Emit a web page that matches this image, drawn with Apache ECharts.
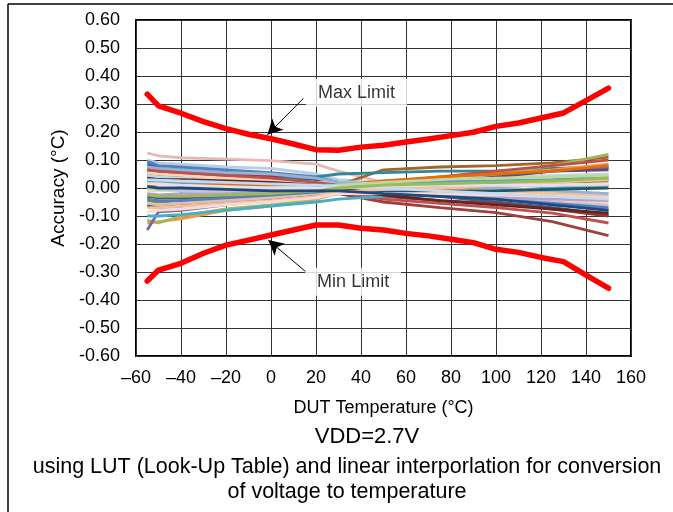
<!DOCTYPE html>
<html>
<head>
    <meta charset="utf-8">
    <title>Accuracy vs DUT Temperature</title>
    <style>
        html, body { margin: 0; padding: 0; background: #fff; }
        #main { width: 673px; height: 512px; }
    </style>
</head>
<body>
    <div id="main"></div>
    <script src="https://cdn.jsdelivr.net/npm/echarts@6/dist/echarts.min.js"></script>
    <script>
        // temperatures of the device curves
        var temps = [-55, -50, -40, -20, 0, 20, 30, 50, 75, 100, 125, 150];
        // temperatures of the limit curves
        var limitTemps = [-55, -50, -40, -30, -20, -10, 0, 10, 20, 30, 40, 50, 60, 70, 80, 90, 100, 110, 120, 130, 140, 150];
        var maxLimit = [0.335, 0.293, 0.267, 0.237, 0.212, 0.192, 0.176, 0.157, 0.137, 0.135, 0.146, 0.153, 0.164, 0.175, 0.187, 0.199, 0.22, 0.232, 0.25, 0.268, 0.312, 0.357];
        var minLimit = [-0.332, -0.293, -0.269, -0.233, -0.204, -0.186, -0.168, -0.15, -0.132, -0.132, -0.144, -0.15, -0.162, -0.171, -0.183, -0.195, -0.219, -0.23, -0.248, -0.263, -0.311, -0.358];

        // one row per device (values at temps)
        var devices = [
            [0.125, 0.115, 0.108, 0.103, 0.098, 0.085, 0.06, 0.02, 0.01, 0.0, -0.01, -0.02],
            [0.1, 0.09, 0.085, 0.075, 0.07, 0.05, 0.03, 0.02, 0.02, 0.025, 0.03, 0.035],
            [0.095, 0.08, 0.075, 0.065, 0.055, 0.04, 0.02, 0.01, -0.01, -0.03, -0.05, -0.08],
            [0.085, 0.07, 0.065, 0.055, 0.045, 0.03, 0.015, -0.01, -0.03, -0.05, -0.07, -0.095],
            [0.07, 0.065, 0.06, 0.05, 0.04, 0.02, 0.0, -0.03, -0.045, -0.055, -0.075, -0.1],
            [0.06, 0.055, 0.05, 0.04, 0.03, 0.01, -0.01, -0.04, -0.055, -0.07, -0.09, -0.125],
            [0.05, 0.045, 0.04, 0.03, 0.015, 0.0, -0.02, -0.05, -0.07, -0.088, -0.12, -0.17],
            [0.03, 0.025, 0.02, 0.01, 0.0, -0.005, 0.01, 0.065, 0.075, 0.08, 0.09, 0.11],
            [0.04, 0.035, 0.035, 0.03, 0.03, 0.04, 0.05, 0.055, 0.06, 0.06, 0.07, 0.075],
            [-0.125, -0.12, -0.11, -0.08, -0.065, -0.04, -0.02, 0.01, 0.03, 0.05, 0.065, 0.085],
            [-0.115, -0.125, -0.1, -0.075, -0.06, -0.035, -0.015, 0.0, 0.02, 0.05, 0.08, 0.12],
            [-0.15, -0.085, -0.08, -0.06, -0.045, -0.03, -0.02, 0.0, 0.02, 0.04, 0.06, 0.07],
            [-0.1, -0.1, -0.095, -0.08, -0.065, -0.05, -0.04, -0.03, -0.02, -0.01, 0.0, 0.01],
            [0.02, 0.02, 0.018, 0.015, 0.015, 0.01, 0.005, 0.0, -0.005, -0.01, -0.02, -0.03],
            [-0.01, -0.01, -0.008, -0.005, 0.0, 0.005, 0.01, 0.015, 0.02, 0.02, 0.025, 0.03],
            [0.0, -0.005, -0.01, -0.01, -0.01, -0.005, 0.0, -0.01, -0.02, -0.035, -0.05, -0.06],
            [0.045, 0.04, 0.035, 0.03, 0.025, 0.02, 0.02, 0.025, 0.03, 0.04, 0.045, 0.05],
            [0.055, 0.05, 0.045, 0.035, 0.03, 0.02, 0.015, 0.01, 0.0, -0.02, -0.04, -0.05],
            [0.065, 0.06, 0.055, 0.045, 0.035, 0.02, 0.01, 0.02, 0.04, 0.06, 0.08, 0.1],
            [-0.03, -0.035, -0.035, -0.03, -0.025, -0.02, -0.015, 0.0, 0.02, 0.04, 0.06, 0.065],
            [-0.045, -0.05, -0.045, -0.04, -0.03, -0.02, -0.01, 0.0, 0.01, 0.015, 0.02, 0.025],
            [-0.04, -0.045, -0.045, -0.035, -0.03, -0.02, -0.01, -0.02, -0.03, -0.04, -0.055, -0.07],
            [0.01, 0.015, 0.015, 0.015, 0.01, 0.01, 0.01, 0.025, 0.04, 0.05, 0.06, 0.08],
            [0.025, 0.025, 0.02, 0.02, 0.015, 0.01, 0.01, 0.015, 0.02, 0.025, 0.03, 0.04],
            [-0.02, -0.025, -0.02, -0.02, -0.015, -0.01, -0.005, -0.015, -0.025, -0.035, -0.04, -0.045],
            [-0.055, -0.06, -0.055, -0.045, -0.035, -0.025, -0.015, -0.005, 0.0, 0.005, 0.01, 0.01],
            [0.075, 0.07, 0.065, 0.055, 0.05, 0.035, 0.02, 0.015, 0.01, 0.0, -0.01, -0.02],
            [0.0, -0.005, 0.0, 0.0, 0.0, 0.005, 0.01, 0.02, 0.03, 0.035, 0.04, 0.045],
            [-0.065, -0.07, -0.065, -0.055, -0.045, -0.03, -0.02, -0.015, -0.01, -0.01, -0.005, 0.0],
            [0.035, 0.03, 0.03, 0.025, 0.02, 0.01, 0.0, -0.025, -0.045, -0.06, -0.075, -0.09],
            [-0.07, -0.07, -0.065, -0.055, -0.045, -0.03, -0.015, -0.005, 0.0, 0.01, 0.02, 0.03],
            [0.015, 0.015, 0.01, 0.005, 0.0, 0.0, 0.0, 0.005, 0.01, 0.01, 0.01, 0.015],
            [-0.085, -0.08, -0.075, -0.06, -0.05, -0.035, -0.02, -0.02, -0.02, -0.025, -0.03, -0.035],
            [0.03, 0.028, 0.025, 0.02, 0.015, 0.01, 0.005, 0.0, -0.01, -0.02, -0.03, -0.04],
            [-0.025, -0.03, -0.03, -0.025, -0.02, -0.01, 0.0, 0.01, 0.015, 0.02, 0.025, 0.035],
            [0.005, 0.0, 0.0, -0.005, -0.01, -0.01, -0.01, -0.02, -0.03, -0.04, -0.06, -0.08]
        ];
        var deviceColors = [
            '#E6B9B8', '#B9CDE5', '#4F81BD', '#376092', '#953735', '#C0504D',
            '#A0403E', '#A5642A', '#31859C', '#F79646', '#9BBB59', '#8064A2',
            '#4BACC6', '#FAC090', '#D7E4BD', '#CCC1DA', '#B7DEE8', '#FCD5B5',
            '#C0504D', '#604A7B', '#76923C', '#4F81BD', '#E46C0A', '#4BACC6',
            '#B3A2C7', '#E6B9B8', '#95B3D7', '#C3D69B', '#215968', '#632523',
            '#FAC090', '#E6E0EC', '#F2DCDB', '#C6D9F1', '#9BBB59', '#1F497D'
        ];

        // annotations: [text, label pos, arrow start, arrow tip]
        var notes = [
            ['Max Limit', [38, 0.34], [14.4, 0.32], [-1.6, 0.19]],
            ['Min Limit', [36.5, -0.335], [15.6, -0.30], [-1.2, -0.186]]
        ];

        var FONT = 'Liberation Sans, Arial, sans-serif';
        var chart = echarts.init(document.getElementById('main'));

        function pairs(xs, ys) {
            return xs.map(function (x, i) { return [x, ys[i]]; });
        }

        var series = [];
        devices.forEach(function (row, i) {
            series.push({
                type: 'line',
                data: pairs(temps, row),
                symbol: 'none',
                silent: true,
                lineStyle: { color: deviceColors[i % deviceColors.length], width: 2.8 },
                z: 2
            });
        });
        [maxLimit, minLimit].forEach(function (lim) {
            series.push({
                type: 'line',
                data: pairs(limitTemps, lim),
                symbol: 'none',
                lineStyle: { color: '#FF0000', width: 5.5, cap: 'round', join: 'round' },
                z: 3
            });
        });
        // arrows
        series.push({
            type: 'line',
            data: [],
            markLine: {
                silent: true,
                symbol: ['none', 'arrow'],
                symbolSize: [12, 15],
                label: { show: false },
                lineStyle: { color: '#000', width: 1, type: 'solid' },
                data: notes.map(function (n) {
                    return [{ coord: n[2] }, { coord: n[3] }];
                })
            },
            z: 4
        });
        // annotation text boxes
        series.push({
            type: 'scatter',
            symbolSize: 0,
            data: notes.map(function (n) { return { name: n[0], value: n[1] }; }),
            label: {
                show: true,
                position: 'inside',
                formatter: '{b}',
                color: '#000',
                fontSize: 18,
                fontFamily: FONT,
                backgroundColor: '#fff',
                padding: [5, 12]
            },
            z: 5
        });

        var option = {
            animation: false,
            grid: {
                left: 136, right: 42, top: 20, bottom: 156,
                show: true, borderColor: '#000', borderWidth: 2
            },
            xAxis: {
                type: 'value',
                min: -60, max: 160, interval: 20,
                name: 'DUT Temperature (°C)',
                nameLocation: 'middle',
                nameGap: 43,
                nameTextStyle: { fontSize: 18, color: '#000', fontFamily: FONT },
                axisLine: { show: false },
                axisTick: { show: false },
                axisLabel: {
                    fontSize: 18, color: '#000', margin: 13,
                    fontFamily: FONT,
                    formatter: function (v) { return v < 0 ? '\u2013' + Math.abs(v) : String(v); }
                },
                splitLine: { lineStyle: { color: '#333', width: 1 } }
            },
            yAxis: {
                type: 'value',
                min: -0.6, max: 0.6, interval: 0.1,
                name: 'Accuracy (°C)',
                nameLocation: 'middle',
                nameGap: 61,
                nameTextStyle: { fontSize: 19, color: '#000', fontFamily: FONT },
                axisLine: { show: false },
                axisTick: { show: false },
                axisLabel: {
                    fontSize: 18, color: '#000', margin: 16,
                    fontFamily: FONT,
                    formatter: function (v) { return v.toFixed(2); }
                },
                splitLine: { lineStyle: { color: '#333', width: 1 } }
            },
            graphic: [
                { type: 'line', shape: { x1: 8, y1: 4, x2: 673, y2: 4 }, style: { stroke: '#000', lineWidth: 1.5 } },
                { type: 'line', shape: { x1: 8, y1: 4, x2: 8, y2: 512 }, style: { stroke: '#000', lineWidth: 1.5 } },
                {
                    type: 'text', x: 367, y: 426,
                    style: { text: 'VDD=2.7V', fontSize: 22, align: 'center', fill: '#000', fontFamily: FONT }
                },
                {
                    type: 'text', x: 347, y: 455,
                    style: {
                        text: 'using LUT (Look-Up Table) and linear interporlation for conversion\nof voltage to temperature',
                        fontSize: 21.5, lineHeight: 25, align: 'center', fill: '#000',
                        fontFamily: FONT
                    }
                }
            ],
            series: series
        };
        chart.setOption(option);
        window.addEventListener('resize', function () {
            chart.resize();
        });
    </script>
</body>
</html>
